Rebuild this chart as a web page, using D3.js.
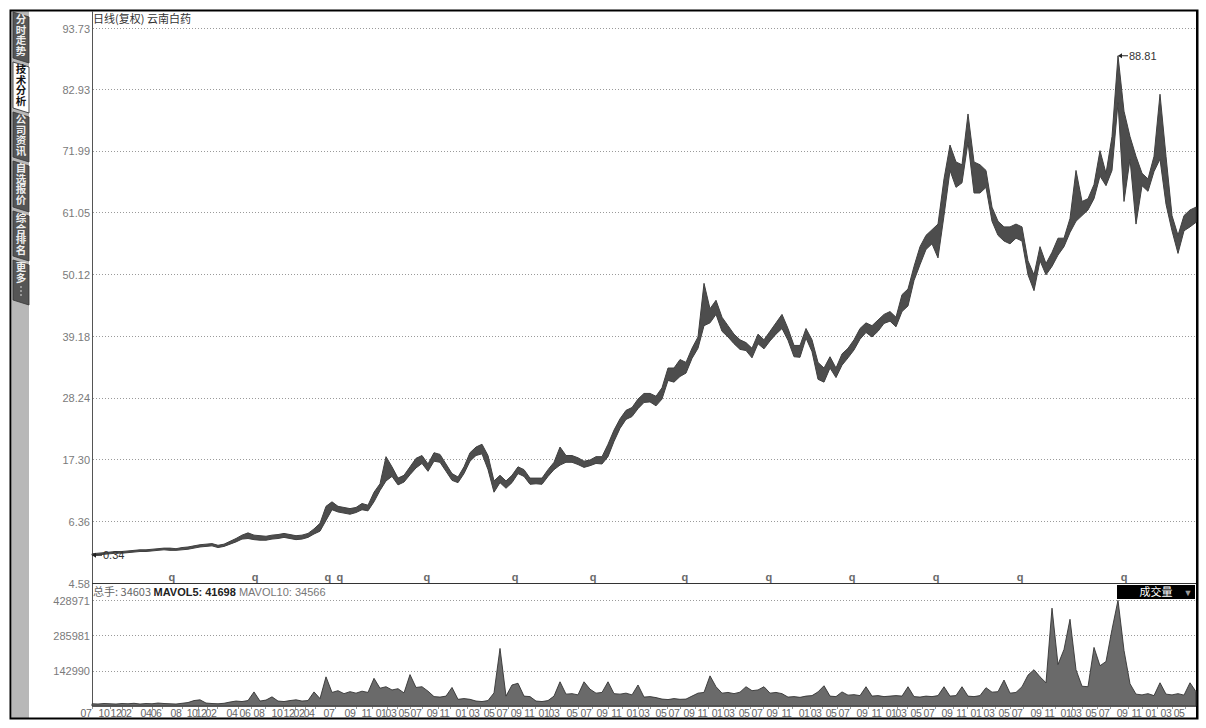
<!DOCTYPE html>
<html><head><meta charset="utf-8">
<script src="https://cdn.jsdelivr.net/npm/d3@7"></script>
<style>body{margin:0;background:#fff}svg{display:block}</style>
</head><body><svg id="c" width="1206" height="728"></svg>
<script>
// ---- data (one sample per ~6px of trading time) ----
const priceHigh = [
 0.6,0.7,0.8,0.9,1.0,1.0,1.1,1.2,1.3,1.3,1.4,1.5,1.6,1.6,1.5,1.7,1.8,2.0,2.2,2.3,2.4,2.1,2.3,2.8,3.3,3.9,4.3,3.9,3.8,3.7,3.9,4.0,4.2,4.0,3.8,3.9,4.2,5.0,6.0,
 9.0,9.8,9.0,8.8,8.6,8.8,9.5,9.2,11.5,13.0,
 17.8,16.0,14.0,14.5,16.0,17.5,18.0,16.5,18.5,18.2,
 16.5,14.8,14.2,16.0,18.5,19.5,20.0,18.0,13.5,14.5,
 13.5,14.5,16.0,15.5,14.0,14.0,14.0,15.5,16.8,19.5,
 18.0,18.0,17.6,17.0,17.2,17.8,17.8,20.0,22.5,24.5,
 26.0,26.5,28.0,29.0,29.0,28.5,30.0,33.5,33.5,35.0,
 34.5,37.0,39.0,48.5,44.0,45.5,42.5,41.0,39.5,38.5,
 38.0,37.0,39.5,38.5,40.0,41.5,43.0,40.5,37.5,37.5,
 40.5,38.5,34.5,33.5,35.5,33.5,36.0,37.0,38.5,40.5,
 41.5,41.0,42.0,43.0,43.5,42.5,46.5,47.5,51.5,55.0,
 57.0,58.0,59.0,67.0,73.0,70.0,69.5,78.5,70.0,69.5,
 68.5,62.0,59.5,58.5,58.5,59.0,58.5,52.5,50.0,55.0,
 52.0,54.0,56.5,56.5,60.0,68.5,63.0,63.5,66.0,72.0,
 68.0,74.5,88.81,79.0,74.5,71.0,68.0,67.0,71.0,82.0,
 71.0,60.5,57.0,60.5,61.5,62.0];
const priceLow = [
 0.34,0.4,0.5,0.6,0.7,0.7,0.8,0.9,1.0,1.0,1.1,1.2,1.3,1.2,1.2,1.3,1.4,1.6,1.8,1.9,2.0,1.7,1.9,2.3,2.7,3.2,3.3,3.1,3.0,3.0,3.2,3.3,3.5,3.3,3.1,3.2,3.5,4.1,4.6,
 6.5,8.4,8.0,7.8,7.6,7.9,8.4,8.2,9.8,11.8,
 13.5,14.3,12.8,13.3,14.6,15.8,16.6,15.2,17.0,16.8,
 15.2,13.6,13.2,14.8,17.0,18.0,18.3,15.5,11.5,13.2,
 12.2,13.2,14.8,14.3,12.9,13.0,12.9,14.3,15.5,16.3,
 16.8,16.8,16.4,15.9,16.2,16.6,16.5,17.8,20.5,22.8,
 24.4,24.9,26.3,27.4,27.5,26.8,28.0,31.3,31.0,32.0,
 32.6,35.2,37.0,41.0,41.5,43.0,40.0,39.0,37.8,36.8,
 36.6,35.3,37.8,36.9,38.3,39.5,40.5,38.4,35.5,35.4,
 38.8,36.4,31.5,31.0,33.5,31.8,34.0,35.3,36.7,38.6,
 39.8,39.0,40.0,41.4,41.8,40.8,43.5,44.5,49.0,51.8,
 54.5,55.5,53.0,60.5,68.5,65.5,66.3,73.5,64.5,64.5,
 65.5,59.5,57.0,56.0,55.5,56.5,56.0,50.0,47.2,52.5,
 50.0,51.5,53.5,55.0,57.5,59.5,60.5,61.5,63.5,67.5,
 65.8,68.5,80.5,63.0,70.5,59.0,65.8,64.8,68.3,70.5,
 62.5,57.8,53.8,57.8,58.5,59.3];
const volume = [
 9000,8000,10000,9000,8000,10000,9000,11000,8000,10000,9000,12000,10000,9000,8000,11000,14000,22000,25000,12000,10000,9000,11000,
 16000,20000,18000,22000,57000,20000,24000,37000,20000,18000,22000,25000,20000,22000,57000,30000,
 118000,55000,62000,50000,58000,52000,60000,55000,112000,72000,
 78000,65000,70000,53000,127000,75000,78000,60000,38000,36000,
 40000,75000,27000,30000,27000,20000,18000,22000,53000,233000,
 40000,85000,92000,40000,38000,20000,18000,22000,40000,98000,
 48000,50000,45000,98000,68000,52000,55000,98000,50000,48000,
 52000,45000,85000,36000,38000,34000,28000,26000,30000,27000,
 28000,40000,52000,55000,122000,78000,52000,55000,50000,56000,
 78000,62000,65000,78000,52000,55000,50000,36000,38000,35000,
 40000,42000,57000,82000,40000,38000,57000,44000,46000,42000,
 78000,40000,42000,38000,40000,42000,40000,78000,38000,36000,
 40000,38000,42000,78000,40000,42000,78000,40000,38000,42000,
 74000,56000,58000,105000,52000,55000,78000,125000,147000,118000,
 94000,396000,168000,229000,351000,147000,80000,78000,237000,163000,
 180000,310000,428000,225000,90000,48000,45000,50000,42000,94000,
 48000,45000,50000,44000,94000,58000];
const priceTicks = [93.73,82.93,71.99,61.05,50.12,39.18,28.24,17.30,6.36,-4.58];
const priceTickLabels = ["93.73","82.93","71.99","61.05","50.12","39.18","28.24","17.30","6.36","4.58"];
const volTicks = [428971,285981,142990];
const monthLabels = ["07","10","12","02","04","06","08","10","12","02","04","06","08","10","12","02","04",
 "07","09","11","01","03","05","07","09","11","01","03","05","07","09","11","01","03","05","07","09","11",
 "01","03","05","07","09","11","01","03","05","07","09","11","01","03","05","07","09","11","01","03","05",
 "07","09","11","01","03","05","07","09","11","01","03","05","07","09","11","01","03","05"];
const monthIdx = [0,3,5,6.67,10,11.67,15,17.67,19.17,20.83,24.33,26.5,28.83,31.83,33.83,35.5,37.17,
 40.5,44,46.67,49.17,50.83,53,55,57.67,59.67,62.5,64.67,67.17,69.33,71.67,73.83,76.33,78,81,83.33,86,88.33,
 91,93,95.83,98,100.5,102.67,105.17,107.17,109.67,111.83,114.33,116.67,119.67,121.67,124.17,126.33,129.33,131.67,134.17,135.83,138.33,
 140.5,143.5,145.83,148.33,150.5,153,155.17,158.33,160.5,163.33,165,167.5,169.67,172.67,175,177.5,180,182.17];
const qIdx = [13.33,27.17,39.33,41.33,55.83,70.5,83.5,98.83,112.83,126.67,140.67,154.67,172];
const tabs = ["分时走势","技术分析","公司资讯","自选报价","综合排名","更多"];
const title = "日线(复权)  云南白药";
const volInfo = [["总手: 34603 ","#666",400],["MAVOL5: 41698 ","#222",700],["MAVOL10: 34566","#777",400]];

// ---- drawing ----
const svg = d3.select("#c");
const FONT = "'Liberation Sans', Arial, sans-serif";
const CJK = "'Noto Sans CJK SC', sans-serif";
const idx = d3.range(priceHigh.length);
const x = d3.scaleLinear().domain([0, priceHigh.length - 1]).range([92, 1196]);
const yP = d3.scaleLinear().domain([-4.58, 93.73]).range([583, 28]);
const yV = d3.scaleLinear().domain([0, 428971]).range([706, 600]);

svg.append("rect").attr("width",1206).attr("height",728).attr("fill","#fff");

// sidebar
svg.append("rect").attr("x",12).attr("y",11).attr("width",17).attr("height",707).attr("fill","#b8b8b8");
const tabY = [[12,58],[62,108],[112,157],[161,207],[211,256],[260,300]];
tabs.forEach((t,i)=>{
  const [a,b] = tabY[i];
  const sel = i===1;
  svg.append("polygon")
    .attr("points",`13,${a} 29,${a+5} 29,${b+5} 13,${b}`)
    .attr("fill", sel ? "#fff" : "#555")
    .attr("stroke", sel ? "#222" : "#333").attr("stroke-width",0.8);
  svg.append("text").attr("x",21).attr("y",a+2)
    .attr("writing-mode","vertical-rl")
    .attr("font-family",CJK).attr("font-size",10.5).attr("font-weight",700)
    .attr("fill", sel ? "#111" : "#eee")
    .text(t);
  if (i===5) {
    svg.append("g").selectAll("circle").data([0,1,2]).join("circle")
      .attr("cx",21).attr("cy",d=>a+27+d*4).attr("r",0.8).attr("fill","#eee");
  }
});

// frame
svg.append("rect").attr("x",10.5).attr("y",10.5).attr("width",1187).attr("height",708)
  .attr("fill","none").attr("stroke","#000").attr("stroke-width",2);

// grid lines
const grid = svg.append("g");
priceTicks.slice(0,9).forEach(v=>{
  grid.append("line").attr("x1",93).attr("x2",1196).attr("y1",Math.round(yP(v))+0.5).attr("y2",Math.round(yP(v))+0.5)
    .attr("stroke","#9a9a9a").attr("stroke-dasharray","1,2");
});
volTicks.forEach(v=>{
  grid.append("line").attr("x1",93).attr("x2",1196).attr("y1",Math.round(yV(v))+0.5).attr("y2",Math.round(yV(v))+0.5)
    .attr("stroke","#9a9a9a").attr("stroke-dasharray","1,2");
});

// y axes
const ax1 = svg.append("g").attr("transform","translate(92,0)")
  .call(d3.axisLeft(yP).tickValues(priceTicks).tickSize(0).tickPadding(2)
    .tickFormat((d,i)=>priceTickLabels[i]));
const ax2 = svg.append("g").attr("transform","translate(92,0)")
  .call(d3.axisLeft(yV).tickValues(volTicks).tickSize(0).tickPadding(2).tickFormat(d3.format("d")));
[ax1,ax2].forEach(g=>{
  g.select(".domain").remove();
  g.selectAll("text").attr("font-family",FONT).attr("font-size",11).attr("fill","#7a7a7a").attr("dy","0.38em");
});

// panel lines
svg.append("line").attr("x1",92.5).attr("x2",92.5).attr("y1",11).attr("y2",707).attr("stroke","#555");
svg.append("line").attr("x1",92).attr("x2",1197).attr("y1",583.5).attr("y2",583.5).attr("stroke","#333");
svg.append("line").attr("x1",92).attr("x2",1197).attr("y1",706.5).attr("y2",706.5).attr("stroke","#777");
svg.append("line").attr("x1",1196.5).attr("x2",1196.5).attr("y1",11).attr("y2",718).attr("stroke","#000");

// price ribbon (high-low of dense daily candles)
const area = d3.area().x(i=>x(i)).y0(i=>yP(priceLow[i])).y1(i=>yP(priceHigh[i])).curve(d3.curveLinear);
svg.append("path").datum(idx).attr("d",area).attr("fill","#4d4d4d").attr("stroke","#404040").attr("stroke-width",1)
  .attr("stroke-linejoin","round");

// volume
const varea = d3.area().x(i=>x(i)).y0(yV(0)).y1(i=>yV(volume[i])).curve(d3.curveLinear);
svg.append("path").datum(idx).attr("d",varea).attr("fill","#6a6a6a").attr("stroke","#333").attr("stroke-width",0.9);

// q markers
svg.append("g").selectAll("text").data(qIdx).join("text")
  .attr("x",d=>x(d)).attr("y",581).attr("text-anchor","middle")
  .attr("font-family",FONT).attr("font-size",11).attr("font-weight",700).attr("fill","#6a6a6a").text("q");

// x axis month labels
const xg = svg.append("g");
monthLabels.forEach((m,i)=>{
  const px = x(monthIdx[i]);
  xg.append("text").attr("x",px-0.5).attr("y",717).attr("text-anchor","end")
    .attr("font-family",FONT).attr("font-size",10.5).attr("letter-spacing",-0.4).attr("fill","#666").text(m);
  xg.append("line").attr("x1",Math.round(px)+0.5).attr("x2",Math.round(px)+0.5).attr("y1",707).attr("y2",709).attr("stroke","#999");
});

// title
svg.append("text").attr("x",93).attr("y",23).attr("font-family",CJK).attr("font-size",11).attr("fill","#333").text(title);

// volume info
const vt = svg.append("text").attr("x",93).attr("y",596).attr("font-family",FONT).attr("font-size",11);
volInfo.forEach(([s,c,w],i)=>{
  vt.append("tspan").attr("fill",c).attr("font-weight",w).attr("font-family", i===0?CJK+","+FONT:FONT).text(s);
});

// volume selector box
svg.append("rect").attr("x",1117).attr("y",585).attr("width",78).attr("height",14).attr("fill","#000");
svg.append("text").attr("x",1156).attr("y",596).attr("text-anchor","middle").attr("font-family",CJK).attr("font-size",11).attr("fill","#fff").text("成交量");
svg.append("text").attr("x",1188).attr("y",596).attr("text-anchor","middle").attr("font-family",FONT).attr("font-size",9).attr("fill","#999").text("▼");

// min / max annotations
function note(i, v, label){
  const px = x(i), py = yP(v);
  const g = svg.append("g");
  g.append("line").attr("x1",px+1).attr("x2",px+10).attr("y1",py).attr("y2",py).attr("stroke","#222");
  g.append("path").attr("d",`M${px},${py} l4,-2.5 l0,5 z`).attr("fill","#222");
  g.append("text").attr("x",px+11).attr("y",py+4).attr("font-family",FONT).attr("font-size",11).attr("fill","#333").text(label);
}
note(0, d3.min(priceLow), d3.min(priceLow).toFixed(2));
const hiI = d3.maxIndex(priceHigh);
note(hiI, priceHigh[hiI], priceHigh[hiI].toFixed(2));
</script></body></html>
